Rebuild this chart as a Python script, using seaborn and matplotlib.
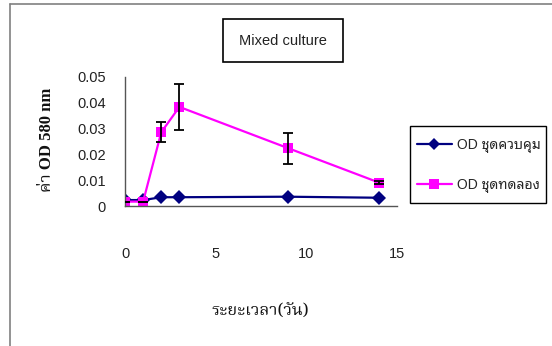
import matplotlib
matplotlib.use("Agg")
import matplotlib.pyplot as plt
import seaborn as sns
import pandas as pd
from matplotlib.patches import Rectangle
from matplotlib.lines import Line2D

# ---- data ----
days = [0, 1, 2, 3, 9, 14]
od_control = [0.0023, 0.0023, 0.0034, 0.0034, 0.0036, 0.0032]
od_treatment = [0.0017, 0.0017, 0.0286, 0.0384, 0.0224, 0.0091]
err_treatment = [0.0, 0.0, 0.0038, 0.009, 0.006, 0.0006]
series_names = ["OD ชุดควบคุม", "OD ชุดทดลอง"]
x_ticks = [0, 5, 10, 15]
y_ticks = [0, 0.01, 0.02, 0.03, 0.04, 0.05]
y_ticklabels = ["0", "0.01", "0.02", "0.03", "0.04", "0.05"]
title = "Mixed culture"
xlabel = "ระยะเวลา(วัน)"
ylabel = "ค่า OD 580 nm"

sns.set_theme(style="white")
plt.rcParams['font.family'] = ['Liberation Sans', 'Noto Sans Thai Looped', 'DejaVu Sans']

W, H = 552, 346
fig = plt.figure(figsize=(W / 100, H / 100), dpi=100)

def fx(px):
    return px / W

def fy(py):
    return 1 - py / H

ax = fig.add_axes([fx(125), fy(206), fx(397) - fx(125), fy(77) - fy(206)])

df = pd.DataFrame({
    "day": days * 2,
    "od": od_control + od_treatment,
    "series": [series_names[0]] * len(days) + [series_names[1]] * len(days),
})
palette = {series_names[0]: "#000080", series_names[1]: "#FF00FF"}
markers = {series_names[0]: "D", series_names[1]: "s"}
sns.lineplot(data=df, x="day", y="od", hue="series", style="series",
             palette=palette, markers=markers, dashes=False, markersize=7.5,
             markeredgewidth=0, linewidth=1.6, ax=ax, legend=False,
             hue_order=series_names, style_order=series_names)
ax.errorbar(days, od_treatment, yerr=err_treatment, fmt="none", ecolor="black",
            elinewidth=1.3, capsize=3.5, capthick=1.3, zorder=5)

ax.set_xlim(0, 15)
ax.set_ylim(0, 0.05)
ax.set_xticks(x_ticks)
ax.set_yticks(y_ticks)
ax.set_yticklabels(y_ticklabels)
ax.set_xlabel("")
ax.set_ylabel("")
for s in ["top", "right"]:
    ax.spines[s].set_visible(False)
for s in ["left", "bottom"]:
    ax.spines[s].set_color("#555555")
    ax.spines[s].set_linewidth(1.0)
ax.tick_params(axis="x", direction="out", length=6.5, width=1.0, color="#555555",
               pad=23, labelsize=10.5, labelcolor="#222222")
ax.tick_params(axis="y", direction="out", length=6, width=1.0, color="#555555",
               pad=8, labelsize=10.5, labelcolor="#222222")
ax.patch.set_alpha(0)
for sp in ax.spines.values():
    sp.set_clip_on(False)

# outer chart-area border (partially visible)
fig.add_artist(Line2D([fx(10), 1.0], [fy(4), fy(4)], color="#808080", lw=1.2))
fig.add_artist(Line2D([fx(10), fx(10)], [fy(4), 0.0], color="#808080", lw=1.2))

# title box
fig.add_artist(Rectangle((fx(223), fy(62)), fx(343) - fx(223), fy(19) - fy(62),
                         facecolor="white", edgecolor="black", lw=1.2))
fig.text(fx(283), fy(41), title, ha="center", va="center", fontsize=10.5,
         color="#222222")

# axis labels
fig.text(fx(260), fy(310), xlabel, ha="center", va="center", fontsize=12,
         fontweight="bold", family=["Noto Serif Thai"], color="#111111")
fig.text(fx(47), fy(140), ylabel, ha="center", va="center", rotation=90,
         fontsize=12, fontweight="bold",
         family=["Liberation Serif", "Noto Serif Thai"], color="#111111")

# legend box
fig.add_artist(Rectangle((fx(410), fy(203)), fx(546) - fx(410), fy(126) - fy(203),
                         facecolor="white", edgecolor="black", lw=1.0))
handles = [
    Line2D([], [], color="#000080", marker="D", markersize=6.5, lw=1.6, markeredgewidth=0),
    Line2D([], [], color="#FF00FF", marker="s", markersize=7.5, lw=1.6, markeredgewidth=0),
]
fig.legend(handles, series_names, loc="center left",
           bbox_to_anchor=(fx(417), fy(165.5)), frameon=False,
           borderaxespad=0, borderpad=0,
           handlelength=2.5, handletextpad=0.35, labelspacing=1.8,
           prop={"family": ["Liberation Sans", "Noto Sans Thai Looped"], "size": 10})

fig.savefig("out.png", dpi=100, facecolor="white")
